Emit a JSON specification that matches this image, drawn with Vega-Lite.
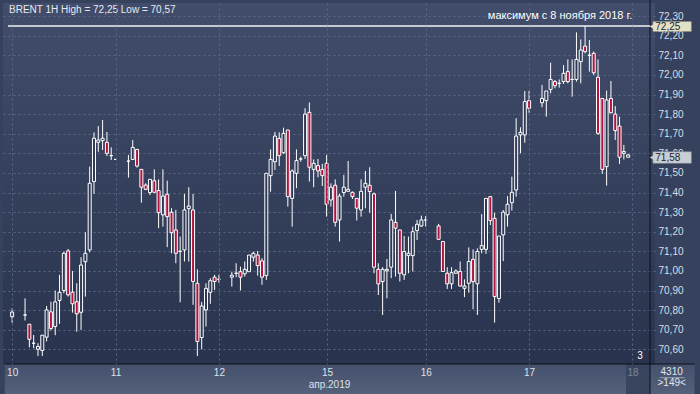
{
"$schema":"https://vega.github.io/schema/vega-lite/v6.json",
"width":652,"height":361,
"autosize":{"type":"none"},
"padding":{"left":3,"top":3,"right":45,"bottom":30},
"background":"#36425d",
"config":{
 "view":{"stroke":null,"fill":{"gradient":"linear","x1":0,"y1":0,"x2":0,"y2":1,"stops":[{"offset":0,"color":"#414d6b"},{"offset":1,"color":"#29334d"}]}},
 "font":"Liberation Sans",
 "axis":{"labelOverlap":false},
 "axisY":{"labelOverlap":false,"labelSeparation":0},
 "axisQuantitative":{"labelOverlap":false}
},
"datasets":{"candles":[
{"s":0,"o":70.766,"h":70.809,"l":70.736,"c":70.79},
{"s":3,"o":70.775,"h":70.86,"l":70.747,"c":70.775},
{"s":4,"o":70.728,"h":70.728,"l":70.61,"c":70.651},
{"s":5,"o":70.631,"h":70.673,"l":70.605,"c":70.631},
{"s":6,"o":70.6,"h":70.631,"l":70.566,"c":70.614},
{"s":7,"o":70.594,"h":70.672,"l":70.566,"c":70.672},
{"s":8,"o":70.662,"h":70.821,"l":70.64,"c":70.801},
{"s":9,"o":70.791,"h":70.843,"l":70.696,"c":70.706},
{"s":10,"o":70.716,"h":70.9,"l":70.672,"c":70.842},
{"s":11,"o":70.849,"h":70.98,"l":70.73,"c":70.891},
{"s":12,"o":70.9,"h":71.098,"l":70.886,"c":71.09},
{"s":13,"o":71.102,"h":71.112,"l":70.869,"c":70.878},
{"s":14,"o":70.891,"h":71.0,"l":70.787,"c":70.832},
{"s":15,"o":70.843,"h":70.937,"l":70.69,"c":70.781},
{"s":16,"o":70.789,"h":71.07,"l":70.699,"c":71.03},
{"s":17,"o":71.047,"h":71.197,"l":70.869,"c":71.09},
{"s":18,"o":71.107,"h":71.532,"l":71.095,"c":71.447},
{"s":19,"o":71.456,"h":71.707,"l":71.393,"c":71.677},
{"s":20,"o":71.656,"h":71.739,"l":71.608,"c":71.668},
{"s":21,"o":71.665,"h":71.77,"l":71.617,"c":71.677},
{"s":22,"o":71.656,"h":71.709,"l":71.586,"c":71.6},
{"s":23,"o":71.588,"h":71.63,"l":71.566,"c":71.588},
{"s":24,"o":71.569,"h":71.569,"l":71.569,"c":71.569},
{"s":27,"o":71.56,"h":71.592,"l":71.476,"c":71.56},
{"s":28,"o":71.569,"h":71.668,"l":71.566,"c":71.63},
{"s":29,"o":71.62,"h":71.62,"l":71.527,"c":71.535},
{"s":30,"o":71.518,"h":71.518,"l":71.348,"c":71.427},
{"s":31,"o":71.438,"h":71.447,"l":71.413,"c":71.416},
{"s":32,"o":71.4,"h":71.467,"l":71.387,"c":71.467},
{"s":33,"o":71.46,"h":71.518,"l":71.401,"c":71.401},
{"s":34,"o":71.41,"h":71.467,"l":71.218,"c":71.297},
{"s":35,"o":71.286,"h":71.518,"l":71.226,"c":71.382},
{"s":36,"o":71.391,"h":71.461,"l":71.121,"c":71.277},
{"s":37,"o":71.299,"h":71.32,"l":71.09,"c":71.195},
{"s":38,"o":71.209,"h":71.311,"l":71.039,"c":71.09},
{"s":39,"o":71.1,"h":71.175,"l":70.84,"c":71.1},
{"s":40,"o":71.107,"h":71.393,"l":71.048,"c":71.311},
{"s":41,"o":71.318,"h":71.427,"l":71.048,"c":71.331},
{"s":42,"o":71.311,"h":71.393,"l":70.827,"c":70.946},
{"s":43,"o":70.937,"h":71.008,"l":70.566,"c":70.64},
{"s":44,"o":70.66,"h":70.842,"l":70.6,"c":70.821},
{"s":45,"o":70.801,"h":70.937,"l":70.716,"c":70.911},
{"s":46,"o":70.891,"h":70.963,"l":70.832,"c":70.95},
{"s":47,"o":70.968,"h":70.98,"l":70.903,"c":70.946},
{"s":48,"o":70.957,"h":70.98,"l":70.94,"c":70.957},
{"s":51,"o":70.968,"h":70.996,"l":70.92,"c":70.978},
{"s":52,"o":70.988,"h":71.039,"l":70.968,"c":70.988},
{"s":53,"o":70.996,"h":71.022,"l":70.9,"c":70.968},
{"s":54,"o":70.985,"h":71.048,"l":70.971,"c":71.008},
{"s":55,"o":70.996,"h":71.081,"l":70.996,"c":71.081},
{"s":56,"o":71.07,"h":71.098,"l":71.048,"c":71.09},
{"s":57,"o":71.081,"h":71.102,"l":70.976,"c":71.027},
{"s":58,"o":71.051,"h":71.065,"l":70.929,"c":70.968},
{"s":59,"o":70.976,"h":71.498,"l":70.954,"c":71.498},
{"s":60,"o":71.486,"h":71.62,"l":71.404,"c":71.569},
{"s":61,"o":71.557,"h":71.709,"l":71.515,"c":71.688},
{"s":62,"o":71.676,"h":71.707,"l":71.535,"c":71.588},
{"s":63,"o":71.603,"h":71.731,"l":71.597,"c":71.702},
{"s":64,"o":71.719,"h":71.719,"l":71.328,"c":71.379},
{"s":65,"o":71.37,"h":71.518,"l":71.226,"c":71.51},
{"s":66,"o":71.498,"h":71.62,"l":71.422,"c":71.563},
{"s":67,"o":71.571,"h":71.583,"l":71.557,"c":71.571},
{"s":68,"o":71.588,"h":71.83,"l":71.571,"c":71.8},
{"s":69,"o":71.809,"h":71.86,"l":71.456,"c":71.529},
{"s":70,"o":71.518,"h":71.569,"l":71.427,"c":71.549},
{"s":71,"o":71.537,"h":71.571,"l":71.478,"c":71.51},
{"s":72,"o":71.518,"h":71.546,"l":71.433,"c":71.486},
{"s":73,"o":71.549,"h":71.592,"l":71.277,"c":71.34},
{"s":74,"o":71.362,"h":71.447,"l":71.328,"c":71.427},
{"s":75,"o":71.437,"h":71.467,"l":71.226,"c":71.248},
{"s":76,"o":71.26,"h":71.393,"l":71.15,"c":71.382},
{"s":77,"o":71.4,"h":71.49,"l":71.379,"c":71.427},
{"s":78,"o":71.406,"h":71.561,"l":71.405,"c":71.416},
{"s":79,"o":71.401,"h":71.405,"l":71.367,"c":71.379},
{"s":80,"o":71.37,"h":71.37,"l":71.257,"c":71.32},
{"s":81,"o":71.311,"h":71.467,"l":71.277,"c":71.406},
{"s":82,"o":71.427,"h":71.51,"l":71.32,"c":71.447},
{"s":83,"o":71.437,"h":71.529,"l":71.297,"c":71.405},
{"s":84,"o":71.393,"h":71.4,"l":70.988,"c":71.019},
{"s":85,"o":71.008,"h":71.039,"l":70.877,"c":70.934},
{"s":86,"o":70.946,"h":71.019,"l":70.775,"c":71.008},
{"s":87,"o":71.0,"h":71.061,"l":70.86,"c":71.008},
{"s":88,"o":71.019,"h":71.291,"l":70.963,"c":71.26},
{"s":89,"o":71.248,"h":71.408,"l":70.971,"c":71.218},
{"s":90,"o":71.209,"h":71.209,"l":70.946,"c":70.988},
{"s":91,"o":70.98,"h":71.178,"l":70.954,"c":71.099},
{"s":92,"o":71.078,"h":71.175,"l":70.988,"c":71.09},
{"s":93,"o":71.078,"h":71.226,"l":70.997,"c":71.2},
{"s":94,"o":71.206,"h":71.26,"l":71.158,"c":71.238},
{"s":95,"o":71.229,"h":71.282,"l":71.226,"c":71.26},
{"s":96,"o":71.26,"h":71.28,"l":71.226,"c":71.26},
{"s":99,"o":71.229,"h":71.24,"l":71.161,"c":71.161},
{"s":100,"o":71.15,"h":71.15,"l":70.997,"c":70.997},
{"s":101,"o":70.988,"h":71.019,"l":70.908,"c":70.934},
{"s":102,"o":70.934,"h":71.019,"l":70.908,"c":70.991},
{"s":103,"o":70.988,"h":71.008,"l":70.985,"c":71.0},
{"s":104,"o":70.997,"h":71.048,"l":70.92,"c":70.923},
{"s":105,"o":70.911,"h":70.957,"l":70.866,"c":70.923},
{"s":106,"o":70.937,"h":71.12,"l":70.889,"c":71.048},
{"s":107,"o":71.059,"h":71.11,"l":70.804,"c":70.946},
{"s":108,"o":70.934,"h":71.115,"l":70.775,"c":71.099},
{"s":109,"o":71.11,"h":71.29,"l":71.09,"c":71.129},
{"s":110,"o":71.11,"h":71.37,"l":71.087,"c":71.37},
{"s":111,"o":71.379,"h":71.379,"l":71.234,"c":71.257},
{"s":112,"o":71.268,"h":71.297,"l":70.736,"c":70.869},
{"s":113,"o":70.859,"h":71.178,"l":70.838,"c":71.178},
{"s":114,"o":71.184,"h":71.311,"l":71.05,"c":71.3},
{"s":115,"o":71.286,"h":71.382,"l":71.226,"c":71.34},
{"s":116,"o":71.348,"h":71.481,"l":71.308,"c":71.401},
{"s":117,"o":71.413,"h":71.779,"l":71.379,"c":71.688},
{"s":118,"o":71.694,"h":71.733,"l":71.6,"c":71.707},
{"s":119,"o":71.694,"h":71.918,"l":71.654,"c":71.864},
{"s":120,"o":71.869,"h":71.918,"l":71.807,"c":71.83},
{"s":123,"o":71.858,"h":71.949,"l":71.835,"c":71.88},
{"s":124,"o":71.869,"h":71.918,"l":71.787,"c":71.918},
{"s":125,"o":71.926,"h":72.062,"l":71.906,"c":71.977},
{"s":126,"o":71.966,"h":71.974,"l":71.932,"c":71.945},
{"s":127,"o":71.957,"h":71.977,"l":71.935,"c":71.957},
{"s":128,"o":71.966,"h":72.05,"l":71.954,"c":72.008},
{"s":129,"o":72.017,"h":72.079,"l":71.957,"c":71.966},
{"s":130,"o":71.977,"h":72.079,"l":71.889,"c":71.977},
{"s":131,"o":71.977,"h":72.217,"l":71.966,"c":72.079},
{"s":132,"o":72.068,"h":72.181,"l":71.957,"c":72.127},
{"s":133,"o":72.147,"h":72.25,"l":72.11,"c":72.119},
{"s":134,"o":72.1,"h":72.178,"l":72.017,"c":72.1},
{"s":135,"o":72.11,"h":72.119,"l":72.0,"c":72.011},
{"s":136,"o":71.988,"h":72.079,"l":71.694,"c":71.702},
{"s":137,"o":71.88,"h":71.88,"l":71.495,"c":71.518},
{"s":138,"o":71.532,"h":71.92,"l":71.435,"c":71.872},
{"s":139,"o":71.88,"h":71.969,"l":71.804,"c":71.807},
{"s":140,"o":71.8,"h":71.841,"l":71.668,"c":71.716},
{"s":141,"o":71.739,"h":71.787,"l":71.546,"c":71.58},
{"s":142,"o":71.6,"h":71.643,"l":71.569,"c":71.609},
{"s":143,"o":71.58,"h":71.597,"l":71.58,"c":71.592}
]},
"layer":[
{"data":{"values":[{}]},
 "mark":{"type":"rect","clip":false,"fill":{"gradient":"linear","x1":0,"y1":0,"x2":0,"y2":1,"stops":[{"offset":0,"color":"#45516c"},{"offset":1,"color":"#56617b"}]}},
 "encoding":{
  "x":{"datum":-1.7,"type":"quantitative","scale":{"domain":[-0.96,148.07],"nice":false,"zero":false},"title":"апр.2019",
   "axis":{"values":[0,24,48,73.1,96,120,144],
    "labelExpr":"datum.value < 12 ? '10' : datum.value < 36 ? '11' : datum.value < 60 ? '12' : datum.value < 85 ? '15' : datum.value < 108 ? '16' : datum.value < 132 ? '17' : '18'",
    "grid":true,"gridColor":"#5b6785","gridDash":[2,3],"gridWidth":1,"gridOpacity":1,
    "domain":false,"ticks":false,"tickSize":0,"labelPadding":3,"labelFlush":false,"labelOverlap":false,"labelFontSize":10,"labelFont":"Liberation Sans",
    "labelColor":{"condition":{"test":"datum.value > 140","value":"#7e889d"},"value":"#dde2ea"},
    "titleFontSize":10,"titleFontWeight":"normal","titleColor":"#dde2ea","titleFont":"Liberation Sans","titlePadding":2,"zindex":1}},
  "x2":{"datum":158.4},
  "y":{"datum":70.525,"type":"quantitative","scale":{"domain":[70.525,72.367],"nice":false,"zero":false},"title":null,
   "axis":{"orient":"right","values":[70.6,70.7,70.8,70.9,71.0,71.1,71.2,71.3,71.4,71.5,71.6,71.7,71.8,71.9,72.0,72.1,72.2,72.3],
    "tickCount":18,
    "labelExpr":"replace(format(datum.value, '.2f'), '.', ',')",
    "grid":true,"gridColor":"#5b6785","gridDash":[2,3],"gridWidth":1,"gridOpacity":1,
    "domain":false,"ticks":false,"tickSize":0,"labelPadding":3,"labelAlign":"left","labelBaseline":"middle","labelFlush":false,"labelOverlap":false,"labelFontSize":10,"labelFont":"Liberation Sans","labelColor":"#d9dee7"}},
  "y2":{"datum":70.36}}},
{"data":{"values":[{}]},
 "mark":{"type":"rect","clip":false,"fill":"#39455f"},
 "encoding":{
  "x":{"datum":142.51,"type":"quantitative","title":"апр.2019"},
  "x2":{"datum":148.07},
  "y":{"datum":70.525,"type":"quantitative","title":null},
  "y2":{"datum":70.36}}},
{"data":{"values":[{}]},
 "mark":{"type":"rule","clip":false,"color":"#0c1019","strokeWidth":1},
 "encoding":{
  "x":{"datum":-1.7,"type":"quantitative","title":"апр.2019"},
  "x2":{"datum":158.4},
  "y":{"datum":70.525,"type":"quantitative","title":null}}},
{"data":{"values":[{}]},
 "mark":{"type":"rule","clip":false,"color":"#0c1019","strokeWidth":1},
 "encoding":{
  "x":{"datum":148.07,"type":"quantitative","title":"апр.2019"},
  "y":{"datum":72.4,"type":"quantitative","title":null},
  "y2":{"datum":70.36}}},
{"data":{"values":[{}]},
 "mark":{"type":"rule","clip":false,"color":"#f2f2f2","strokeWidth":1.5},
 "encoding":{
  "x":{"datum":-0.96,"type":"quantitative","title":"апр.2019"},
  "x2":{"datum":148.07},
  "y":{"datum":72.25,"type":"quantitative","title":null}}},
{"data":{"name":"candles"},
 "mark":{"type":"rule","color":"#ffffff","strokeWidth":1},
 "encoding":{
  "x":{"field":"s","type":"quantitative","title":"апр.2019"},
  "y":{"field":"l","type":"quantitative","title":null},
  "y2":{"field":"h"}}},
{"data":{"name":"candles"},
 "mark":{"type":"bar","size":3,"stroke":"#ffffff","strokeWidth":1},
 "encoding":{
  "x":{"field":"s","type":"quantitative","title":"апр.2019"},
  "y":{"field":"o","type":"quantitative","title":null},
  "y2":{"field":"c"},
  "fill":{"condition":{"test":"datum.c < datum.o","value":"#b3123f"},"value":"#2e3955"}}},
{"data":{"values":[{}]},
 "mark":{"type":"text","clip":false,"text":"BRENT 1H High = 72,25 Low = 70,57","align":"left","baseline":"middle","fontSize":10,"font":"Liberation Sans","color":"#e8eaf0"},
 "encoding":{"x":{"datum":-0.73,"type":"quantitative","title":"апр.2019"},"y":{"datum":72.331,"type":"quantitative","title":null}}},
{"data":{"values":[{}]},
 "mark":{"type":"text","clip":false,"text":"максимум с 8 ноября 2018 г.","align":"right","baseline":"middle","fontSize":11,"font":"Liberation Sans","color":"#ffffff"},
 "encoding":{"x":{"datum":143.95,"type":"quantitative","title":"апр.2019"},"y":{"datum":72.3,"type":"quantitative","title":null}}},
{"data":{"values":[{}]},
 "mark":{"type":"rect","clip":false,"fill":"#e4e2c6","stroke":"#8c8c78","strokeWidth":0.5},
 "encoding":{"x":{"datum":148.75,"type":"quantitative","title":"апр.2019"},"x2":{"datum":157.67},"y":{"datum":72.272,"type":"quantitative","title":null},"y2":{"datum":72.221}}},
{"data":{"values":[{}]},
 "mark":{"type":"point","clip":false,"shape":"triangle-left","filled":true,"size":28,"color":"#e4e2c6","opacity":1},
 "encoding":{"x":{"datum":148.55,"type":"quantitative","title":"апр.2019"},"y":{"datum":72.2465,"type":"quantitative","title":null}}},
{"data":{"values":[{}]},
 "mark":{"type":"text","clip":false,"text":"72,25","align":"left","baseline":"middle","fontSize":10,"font":"Liberation Sans","color":"#1c2232"},
 "encoding":{"x":{"datum":149.3,"type":"quantitative","title":"апр.2019"},"y":{"datum":72.2465,"type":"quantitative","title":null}}},
{"data":{"values":[{}]},
 "mark":{"type":"rect","clip":false,"fill":"#c9cdd4","stroke":"#8a8f99","strokeWidth":0.5},
 "encoding":{"x":{"datum":148.75,"type":"quantitative","title":"апр.2019"},"x2":{"datum":157.67},"y":{"datum":71.608,"type":"quantitative","title":null},"y2":{"datum":71.549}}},
{"data":{"values":[{}]},
 "mark":{"type":"point","clip":false,"shape":"triangle-left","filled":true,"size":28,"color":"#c9cdd4","opacity":1},
 "encoding":{"x":{"datum":148.55,"type":"quantitative","title":"апр.2019"},"y":{"datum":71.5785,"type":"quantitative","title":null}}},
{"data":{"values":[{}]},
 "mark":{"type":"text","clip":false,"text":"71,58","align":"left","baseline":"middle","fontSize":10,"font":"Liberation Sans","color":"#1c2232"},
 "encoding":{"x":{"datum":149.3,"type":"quantitative","title":"апр.2019"},"y":{"datum":71.5785,"type":"quantitative","title":null}}},
{"data":{"values":[{}]},
 "mark":{"type":"text","clip":false,"text":"3","align":"center","baseline":"middle","fontSize":10,"font":"Liberation Sans","color":"#ffffff"},
 "encoding":{"x":{"datum":145.78,"type":"quantitative","title":"апр.2019"},"y":{"datum":70.566,"type":"quantitative","title":null}}},
{"data":{"values":[{}]},
 "mark":{"type":"text","clip":false,"text":"4310","align":"center","baseline":"middle","fontSize":10,"font":"Liberation Sans","color":"#e2e6ec"},
 "encoding":{"x":{"datum":153.1,"type":"quantitative","title":"апр.2019"},"y":{"datum":70.4857,"type":"quantitative","title":null}}},
{"data":{"values":[{}]},
 "mark":{"type":"rule","clip":false,"color":"#9aa4b8","strokeWidth":1},
 "encoding":{"x":{"datum":150.35,"type":"quantitative","title":"апр.2019"},"x2":{"datum":156.07},"y":{"datum":70.455,"type":"quantitative","title":null}}},
{"data":{"values":[{}]},
 "mark":{"type":"text","clip":false,"text":">149<","align":"center","baseline":"middle","fontSize":10,"font":"Liberation Sans","color":"#e2e6ec"},
 "encoding":{"x":{"datum":153.1,"type":"quantitative","title":"апр.2019"},"y":{"datum":70.4265,"type":"quantitative","title":null}}}
]
}
